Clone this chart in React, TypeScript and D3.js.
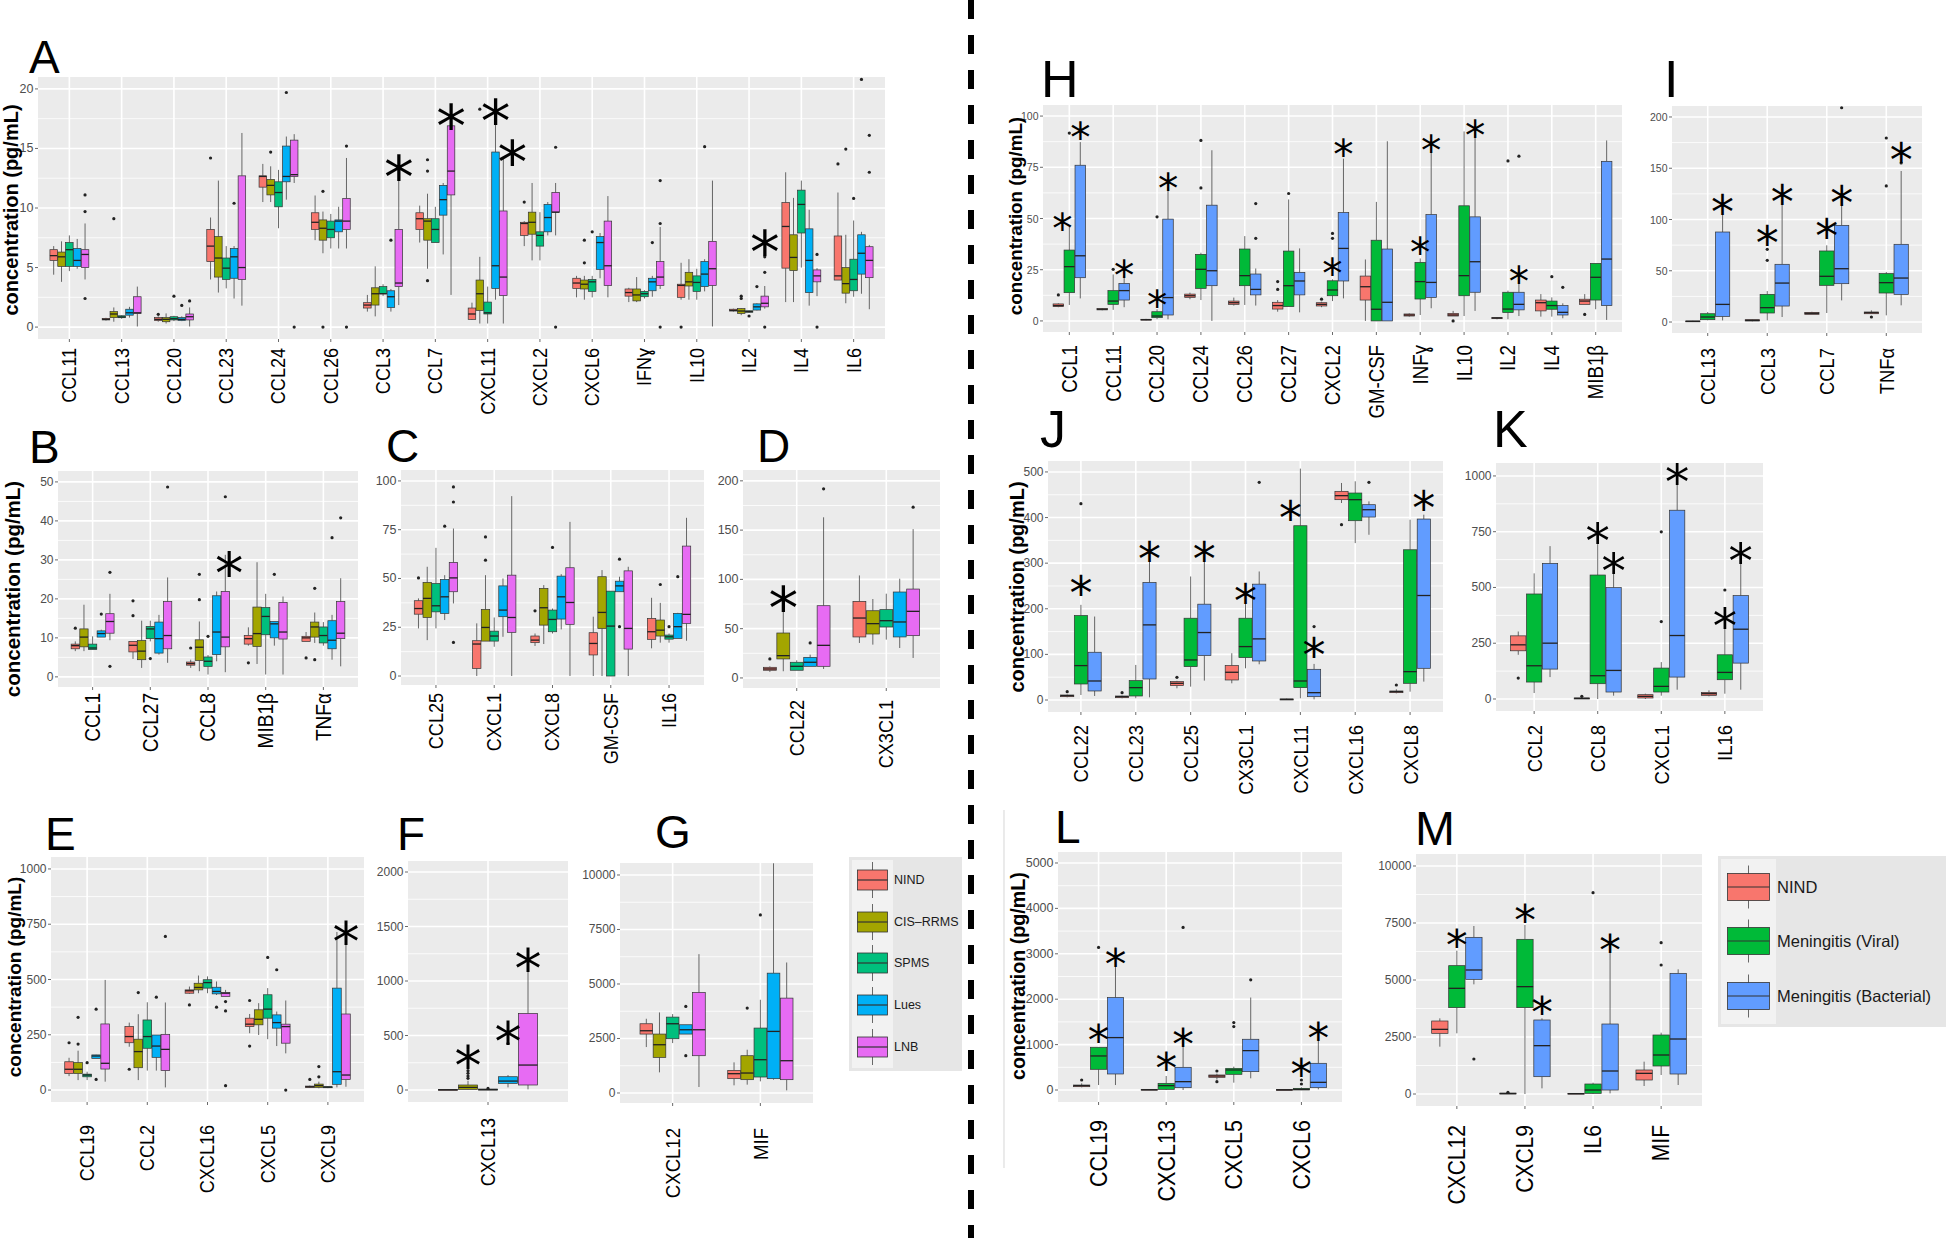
import React from "react";
import * as d3 from "d3";

// ---------- groups ----------
const msGroups = ["NIND", "CIS–RRMS", "SPMS", "Lues", "LNB"];
const msColors = ["#F8766D", "#A3A500", "#00BF7D", "#00B0F6", "#E76BF3"];
const menGroups = ["NIND", "Meningitis (Viral)", "Meningitis (Bacterial)"];
const menColors = ["#F8766D", "#00BA38", "#619CFF"];

// row: [category, group, lowerWhisker, q1, median, q3, upperWhisker, outliers]
type Row = [string, number, number, number, number, number, number, number[]];
type Star = [string, number, number];

// ---------- Panel A ----------
const aCats = ["CCL11", "CCL13", "CCL20", "CCL23", "CCL24", "CCL26", "CCL3", "CCL7", "CXCL11", "CXCL2", "CXCL6", "IFNɣ", "IL10", "IL2", "IL4", "IL6"];
const aTicks = [0, 5, 10, 15, 20];
const aBoxes: Row[] = [
  ["CCL11", 0, 4.4, 5.6, 6.0, 6.5, 6.8, []],
  ["CCL11", 1, 3.8, 5.1, 5.9, 6.3, 7.2, []],
  ["CCL11", 2, 4.7, 5.1, 6.5, 7.1, 7.7, []],
  ["CCL11", 3, 4.9, 5.1, 5.6, 6.6, 7.4, []],
  ["CCL11", 4, 4.0, 5.0, 6.1, 6.5, 8.7, [11.1, 9.7, 2.4]],
  ["CCL13", 0, 0.55, 0.6, 0.65, 0.73, 0.78, []],
  ["CCL13", 1, 0.45, 0.8, 1.1, 1.3, 1.65, [9.1]],
  ["CCL13", 2, 0.7, 0.79, 0.85, 0.95, 1.0, []],
  ["CCL13", 3, 0.8, 1.0, 1.2, 1.5, 1.7, []],
  ["CCL13", 4, 0.05, 1.15, 1.2, 2.55, 3.4, []],
  ["CCL20", 0, 0.45, 0.55, 0.65, 0.8, 0.9, [1.07]],
  ["CCL20", 1, 0.3, 0.45, 0.65, 0.8, 1.15, []],
  ["CCL20", 2, 0.5, 0.6, 0.7, 0.87, 0.95, [2.6]],
  ["CCL20", 3, 0.5, 0.55, 0.65, 0.8, 0.9, [1.82]],
  ["CCL20", 4, 0.05, 0.6, 0.87, 1.1, 1.65, [2.2]],
  ["CCL23", 0, 4.0, 5.5, 6.8, 8.2, 9.2, [14.2]],
  ["CCL23", 1, 2.9, 4.2, 5.8, 7.6, 12.3, []],
  ["CCL23", 2, 3.25, 4.0, 4.95, 5.8, 6.8, []],
  ["CCL23", 3, 2.4, 4.1, 5.9, 6.6, 6.8, [10.4]],
  ["CCL23", 4, 1.8, 4.0, 5.0, 12.7, 16.3, []],
  ["CCL24", 0, 10.5, 11.75, 12.65, 12.7, 13.7, []],
  ["CCL24", 1, 10.5, 11.1, 11.9, 12.4, 13.5, [14.7]],
  ["CCL24", 2, 8.3, 10.1, 11.3, 12.2, 13.2, []],
  ["CCL24", 3, 10.7, 12.2, 12.65, 15.2, 16.0, [19.7]],
  ["CCL24", 4, 12.1, 12.65, 12.8, 15.7, 16.2, [0]],
  ["CCL26", 0, 7.3, 8.2, 8.8, 9.6, 11.05, []],
  ["CCL26", 1, 6.2, 7.3, 8.3, 9.0, 9.7, [11.4, 0]],
  ["CCL26", 2, 6.6, 7.5, 8.2, 8.9, 9.5, []],
  ["CCL26", 3, 6.6, 8.0, 8.9, 9.0, 10.1, []],
  ["CCL26", 4, 6.6, 8.2, 8.9, 10.8, 14.2, [15.2, 0]],
  ["CCL3", 0, 1.3, 1.6, 1.85, 2.05, 2.7, []],
  ["CCL3", 1, 0.9, 1.85, 2.8, 3.3, 5.1, []],
  ["CCL3", 2, 2.6, 2.8, 2.8, 3.4, 3.6, []],
  ["CCL3", 3, 1.3, 1.65, 2.55, 3.05, 3.2, [7.3]],
  ["CCL3", 4, 1.85, 3.4, 3.7, 8.2, 12.8, []],
  ["CCL7", 0, 7.1, 8.2, 9.1, 9.6, 10.2, []],
  ["CCL7", 1, 4.9, 7.3, 8.9, 9.1, 11.2, [14.05, 13.1, 3.9]],
  ["CCL7", 2, 7.1, 7.1, 8.2, 9.1, 10.1, []],
  ["CCL7", 3, 6.1, 9.4, 10.7, 11.9, 12.1, []],
  ["CCL7", 4, 2.7, 11.1, 13.1, 16.9, 16.9, []],
  ["CXCL11", 0, 0.6, 0.65, 1.1, 1.6, 2.05, []],
  ["CXCL11", 1, 0.3, 1.4, 2.8, 3.95, 5.9, [18.3]],
  ["CXCL11", 2, 0.3, 1.1, 1.2, 2.1, 3.4, []],
  ["CXCL11", 3, 2.3, 3.25, 5.15, 14.7, 19.1, []],
  ["CXCL11", 4, 0.3, 2.65, 4.2, 9.75, 14.2, []],
  ["CXCL2", 0, 6.8, 7.7, 8.7, 8.8, 8.9, [10.5]],
  ["CXCL2", 1, 5.6, 7.8, 8.8, 9.65, 12.1, []],
  ["CXCL2", 2, 5.6, 6.8, 7.7, 8.0, 9.65, []],
  ["CXCL2", 3, 7.7, 8.0, 9.2, 10.3, 10.5, []],
  ["CXCL2", 4, 7.7, 9.65, 9.65, 11.3, 12.1, [15.1, 0]],
  ["CXCL6", 0, 2.5, 3.25, 3.7, 4.1, 4.3, []],
  ["CXCL6", 1, 2.3, 3.2, 3.6, 3.95, 4.3, [7.3, 5.4]],
  ["CXCL6", 2, 2.5, 3.0, 3.8, 4.0, 4.3, [8.0]],
  ["CXCL6", 3, 4.1, 4.85, 7.1, 7.6, 7.9, []],
  ["CXCL6", 4, 2.5, 3.5, 5.15, 8.9, 11.0, []],
  ["IFNɣ", 0, 2.1, 2.6, 2.9, 3.2, 3.3, []],
  ["IFNɣ", 1, 2.1, 2.2, 2.7, 3.2, 4.2, []],
  ["IFNɣ", 2, 2.4, 2.55, 2.8, 3.0, 3.1, []],
  ["IFNɣ", 3, 2.55, 3.05, 3.8, 4.1, 4.3, [7.1]],
  ["IFNɣ", 4, 3.2, 3.5, 4.2, 5.5, 8.4, [12.3, 8.7, 0]],
  ["IL10", 0, 2.3, 2.5, 3.5, 3.6, 5.4, [0]],
  ["IL10", 1, 2.3, 3.45, 3.8, 4.6, 5.7, []],
  ["IL10", 2, 2.3, 3.0, 3.75, 4.3, 4.9, []],
  ["IL10", 3, 3.0, 3.4, 4.45, 5.5, 5.7, [15.15]],
  ["IL10", 4, 0.05, 3.5, 4.9, 7.2, 12.3, []],
  ["IL2", 0, 1.3, 1.35, 1.4, 1.5, 1.55, []],
  ["IL2", 1, 1.0, 1.15, 1.35, 1.55, 1.6, [2.6, 2.4]],
  ["IL2", 2, 1.2, 1.25, 1.3, 1.37, 1.4, [0.93]],
  ["IL2", 3, 1.4, 1.43, 1.7, 1.95, 2.0, [3.4]],
  ["IL2", 4, 1.55, 1.7, 2.0, 2.6, 3.45, [4.6, 5.9, 0]],
  ["IL4", 0, 2.1, 4.95, 8.45, 10.45, 13.0, []],
  ["IL4", 1, 2.1, 4.75, 5.85, 7.75, 10.85, []],
  ["IL4", 2, 5.0, 7.9, 10.3, 11.5, 12.3, []],
  ["IL4", 3, 1.8, 2.9, 5.6, 8.25, 9.85, []],
  ["IL4", 4, 2.6, 3.8, 4.3, 4.8, 4.95, [6.1, 0]],
  ["IL6", 0, 3.95, 3.95, 4.3, 7.65, 11.3, [13.7]],
  ["IL6", 1, 2.0, 2.85, 3.65, 5.0, 7.75, [14.95]],
  ["IL6", 2, 2.55, 3.05, 4.0, 5.7, 8.95, [10.8]],
  ["IL6", 3, 2.8, 4.45, 6.2, 7.75, 8.0, [20.8]],
  ["IL6", 4, 1.5, 4.15, 5.6, 6.75, 6.9, [16.1, 13.0]],
];
const aStars: Star[] = [["CCL3", 4, 13.7], ["CCL7", 4, 18.0], ["CXCL11", 3, 18.4], ["CXCL11", 4, 15.0], ["IL2", 4, 7.4]];

// ---------- Panel B ----------
const bCats = ["CCL1", "CCL27", "CCL8", "MIB1β", "TNFα"];
const bTicks = [0, 10, 20, 30, 40, 50];
const bBoxes: Row[] = [
  ["CCL1", 0, 6.6, 7.2, 8.0, 8.4, 9.1, [12.5]],
  ["CCL1", 1, 6.6, 7.7, 10.2, 12.3, 18.5, []],
  ["CCL1", 2, 7.0, 7.0, 7.4, 8.4, 10.4, []],
  ["CCL1", 3, 10.2, 10.2, 11.1, 11.8, 12.1, [16.1]],
  ["CCL1", 4, 9.4, 11.2, 14.2, 16.2, 21.3, [26.8, 2.7]],
  ["CCL27", 0, 4.6, 6.4, 8.1, 9.1, 9.1, [19.5, 15.7]],
  ["CCL27", 1, 2.3, 4.4, 6.6, 9.3, 14.4, []],
  ["CCL27", 2, 9.1, 9.8, 12.3, 12.95, 14.4, [4.7]],
  ["CCL27", 3, 5.7, 6.1, 9.8, 14.05, 15.9, []],
  ["CCL27", 4, 3.6, 7.2, 10.6, 19.3, 25.5, [48.7]],
  ["CCL8", 0, 2.3, 3.0, 3.4, 3.8, 4.4, [7.4]],
  ["CCL8", 1, 1.45, 4.2, 7.6, 9.5, 14.2, [26.3, 19.8]],
  ["CCL8", 2, 0.6, 2.7, 4.0, 5.1, 5.6, [10.4]],
  ["CCL8", 3, 4.0, 5.7, 11.5, 20.8, 21.9, []],
  ["CCL8", 4, 1.2, 7.7, 10.2, 21.9, 31.3, [46.2]],
  ["MIB1β", 0, 8.0, 8.4, 9.8, 10.6, 12.7, [3.6]],
  ["MIB1β", 1, 3.3, 7.8, 11.1, 17.9, 29.4, []],
  ["MIB1β", 2, 0.6, 10.8, 15.5, 17.8, 21.3, []],
  ["MIB1β", 3, 8.0, 10.0, 13.6, 14.2, 14.2, [26.3]],
  ["MIB1β", 4, 0.6, 9.7, 11.5, 19.1, 20.6, []],
  ["TNFα", 0, 9.1, 9.1, 10.0, 10.4, 11.5, [4.85]],
  ["TNFα", 1, 8.7, 10.2, 12.8, 14.05, 16.5, [22.7, 4.4]],
  ["TNFα", 2, 8.0, 8.7, 10.6, 12.8, 14.05, []],
  ["TNFα", 3, 4.4, 7.2, 9.4, 14.4, 15.9, [35.7]],
  ["TNFα", 4, 2.7, 9.8, 11.2, 19.3, 25.3, [40.8]],
];
const bStars: Star[] = [["CCL8", 4, 30]];

// ---------- Panel C ----------
const cCats = ["CCL25", "CXCL1", "CXCL8", "GM-CSF", "IL16"];
const cTicks = [0, 25, 50, 75, 100];
const cBoxes: Row[] = [
  ["CCL25", 0, 24.4, 31.7, 34.6, 38.6, 39.8, [50.3]],
  ["CCL25", 1, 18.4, 30.0, 39.8, 48.0, 56.0, []],
  ["CCL25", 2, 24.4, 32.9, 36.0, 47.4, 65.7, []],
  ["CCL25", 3, 28.7, 32.1, 40.6, 49.5, 51.7, [76.8]],
  ["CCL25", 4, 37.2, 43.2, 50.3, 58.2, 75.6, [96.9, 89.2, 17.2]],
  ["CXCL1", 0, 0, 3.9, 16.4, 18.1, 27.0, []],
  ["CXCL1", 1, 17.9, 17.9, 24.9, 34.1, 51.7, [71.3, 59.4]],
  ["CXCL1", 2, 15.0, 17.9, 20.5, 23.0, 30.0, []],
  ["CXCL1", 3, 20.1, 30.4, 33.8, 46.2, 50.0, []],
  ["CXCL1", 4, 0, 22.4, 30.0, 51.7, 92.2, []],
  ["CXCL8", 0, 15.4, 17.1, 18.4, 20.5, 21.8, [33.4]],
  ["CXCL8", 1, 16.4, 26.1, 35.0, 44.9, 46.6, []],
  ["CXCL8", 2, 21.8, 22.7, 29.0, 33.8, 34.6, [65.9]],
  ["CXCL8", 3, 23.9, 29.2, 40.6, 51.2, 52.2, []],
  ["CXCL8", 4, 0, 26.5, 37.7, 55.5, 79.0, []],
  ["GM-CSF", 0, 0, 10.8, 16.7, 22.2, 30.4, []],
  ["GM-CSF", 1, 0, 24.4, 32.6, 50.9, 54.3, []],
  ["GM-CSF", 2, 0, 0, 25.6, 43.5, 43.5, []],
  ["GM-CSF", 3, 43.2, 43.2, 46.2, 48.6, 50.9, [59.9, 25.3]],
  ["GM-CSF", 4, 0, 13.8, 24.4, 53.9, 56.0, []],
  ["IL16", 0, 14.2, 18.8, 22.7, 29.5, 40.1, []],
  ["IL16", 1, 17.1, 20.5, 23.5, 28.7, 37.5, [46.9]],
  ["IL16", 2, 17.1, 18.9, 20.1, 21.0, 21.8, [25.3]],
  ["IL16", 3, 19.3, 19.3, 25.3, 32.1, 32.4, [50.9]],
  ["IL16", 4, 18.1, 27.0, 31.6, 66.6, 81.1, []],
];
const cStars: Star[] = [];

// ---------- Panel D ----------
const dCats = ["CCL22", "CX3CL1"];
const dTicks = [0, 50, 100, 150, 200];
const dBoxes: Row[] = [
  ["CCL22", 0, 6.1, 7.8, 9.1, 10.8, 11.8, [19.3]],
  ["CCL22", 1, 6.8, 19.3, 22.6, 45.6, 73.3, []],
  ["CCL22", 2, 7.8, 7.8, 11.8, 15.9, 17.9, []],
  ["CCL22", 3, 11.8, 11.8, 15.9, 20.9, 23.6, [35.5]],
  ["CCL22", 4, 9.1, 11.8, 33.1, 73.3, 163, [191.9]],
  ["CX3CL1", 0, 35.5, 41.6, 60.8, 77.7, 104, []],
  ["CX3CL1", 1, 33.8, 44.6, 55.1, 68.2, 80.1, []],
  ["CX3CL1", 2, 38.9, 51.7, 58.1, 69.3, 85.5, []],
  ["CX3CL1", 3, 30.4, 41.6, 56.8, 87.2, 100.7, []],
  ["CX3CL1", 4, 20.3, 42.9, 67.6, 90.2, 151, [173.3]],
];
const dStars: Star[] = [["CCL22", 1, 84]];

// ---------- Panel E ----------
const eCats = ["CCL19", "CCL2", "CXCL16", "CXCL5", "CXCL9"];
const eTicks = [0, 250, 500, 750, 1000];
const eBoxes: Row[] = [
  ["CCL19", 0, 63, 75, 94, 128, 146, [214]],
  ["CCL19", 1, 45, 75, 94, 124, 178, [329, 208]],
  ["CCL19", 2, 45, 60, 68, 72, 83, [124]],
  ["CCL19", 3, 143, 143, 154, 159, 160, [366, 48]],
  ["CCL19", 4, 38, 95, 121, 299, 498, []],
  ["CCL2", 0, 196, 214, 242, 287, 305, [94]],
  ["CCL2", 1, 45, 101, 174, 230, 343, [441]],
  ["CCL2", 2, 88, 189, 242, 317, 397, []],
  ["CCL2", 3, 88, 148, 199, 249, 249, [420]],
  ["CCL2", 4, 12, 88, 184, 252, 396, [695]],
  ["CXCL16", 0, 435, 438, 449, 453, 468, [385]],
  ["CXCL16", 1, 438, 453, 464, 483, 518, []],
  ["CXCL16", 2, 438, 461, 486, 499, 514, []],
  ["CXCL16", 3, 430, 435, 446, 465, 491, [375]],
  ["CXCL16", 4, 423, 423, 438, 441, 453, [400, 358, 20]],
  ["CXCL5", 0, 257, 287, 298, 325, 344, [405, 199]],
  ["CXCL5", 1, 249, 295, 320, 363, 393, []],
  ["CXCL5", 2, 230, 325, 366, 431, 461, [600]],
  ["CXCL5", 3, 199, 280, 305, 340, 355, [544]],
  ["CXCL5", 4, 166, 212, 287, 298, 405, [0]],
  ["CXCL9", 0, 10, 12, 15, 18, 20, [48]],
  ["CXCL9", 1, 8, 12, 20, 27, 38, [106, 60]],
  ["CXCL9", 2, 8, 10.6, 13.6, 15, 17, []],
  ["CXCL9", 3, 12, 26, 83, 461, 715, []],
  ["CXCL9", 4, 15, 48, 68, 344, 684, []],
];
const eStars: Star[] = [["CXCL9", 4, 728]];

// ---------- Panel F ----------
const fCats = ["CXCL13"];
const fTicks = [0, 500, 1000, 1500, 2000];
const fBoxes: Row[] = [
  ["CXCL13", 0, 0, 0, 2, 5, 8, []],
  ["CXCL13", 1, 4, 6, 24, 46, 85, [107, 128, 153, 177]],
  ["CXCL13", 2, 0, 0, 3, 9, 12, [15]],
  ["CXCL13", 3, 24, 61, 82, 122, 137, [427]],
  ["CXCL13", 4, 6, 46, 229, 702, 1105, []],
];
const fStars: Star[] = [["CXCL13", 1, 336], ["CXCL13", 3, 565], ["CXCL13", 4, 1227]];

// ---------- Panel G ----------
const gCats = ["CXCL12", "MIF"];
const gTicks = [0, 2500, 5000, 7500, 10000];
const gBoxes: Row[] = [
  ["CXCL12", 0, 2107, 2703, 2855, 3176, 3405, []],
  ["CXCL12", 1, 947, 1634, 2214, 2703, 3695, []],
  ["CXCL12", 2, 2290, 2489, 3176, 3481, 3619, []],
  ["CXCL12", 3, 2703, 2703, 2901, 3130, 3130, [3970, 1710]],
  ["CXCL12", 4, 275, 1710, 2901, 4611, 6368, []],
  ["MIF", 0, 351, 657, 886, 1038, 1405, []],
  ["MIF", 1, 382, 611, 916, 1710, 1985, [3894]],
  ["MIF", 2, 534, 733, 1527, 2978, 4276, [8170]],
  ["MIF", 3, 611, 657, 2825, 5497, 10536, []],
  ["MIF", 4, 122, 611, 1481, 4352, 5986, []],
];
const gStars: Star[] = [];

// ---------- Panel H ----------
const hCats = ["CCL1", "CCL11", "CCL20", "CCL24", "CCL26", "CCL27", "CXCL2", "GM-CSF", "INFɣ", "IL10", "IL2", "IL4", "MIB1β"];
const hTicks = [0, 25, 50, 75, 100];
const hBoxes: Row[] = [
  ["CCL1", 0, 6.7, 7.0, 7.5, 8.3, 8.6, [12.7]],
  ["CCL1", 1, 7.8, 13.8, 26.5, 34.6, 45.9, [91.7]],
  ["CCL1", 2, 11.0, 21.1, 31.8, 76.0, 87.3, []],
  ["CCL11", 0, 5.2, 5.4, 5.7, 6.0, 6.3, []],
  ["CCL11", 1, 5.4, 8.1, 9.7, 14.8, 22.7, [25.2]],
  ["CCL11", 2, 6.7, 10.2, 14.8, 18.3, 21.9, []],
  ["CCL20", 0, 0.3, 0.5, 0.6, 0.8, 1.0, []],
  ["CCL20", 1, 0.8, 1.6, 2.4, 4.5, 5.7, [50.8]],
  ["CCL20", 2, 0.8, 2.9, 11.4, 49.7, 65.4, []],
  ["CCL24", 0, 10.6, 11.5, 12.3, 13.1, 13.8, []],
  ["CCL24", 1, 10.2, 15.9, 25.2, 32.5, 33.3, [88.1, 64.9]],
  ["CCL24", 2, 0, 17.2, 24.5, 56.5, 83.3, []],
  ["CCL26", 0, 7.5, 8.1, 8.9, 9.7, 11.4, []],
  ["CCL26", 1, 7.8, 17.2, 22.1, 35.1, 41.4, []],
  ["CCL26", 2, 7.5, 12.7, 15.4, 22.9, 25.6, [57.3, 40.3]],
  ["CCL27", 0, 4.5, 5.8, 7.5, 9.1, 10.2, [19.2, 15.4]],
  ["CCL27", 1, 7.0, 7.0, 17.2, 34.1, 59.3, [62.2]],
  ["CCL27", 2, 4.2, 12.7, 19.5, 23.7, 35.4, []],
  ["CXCL2", 0, 6.7, 7.3, 8.1, 8.9, 9.4, [10.6]],
  ["CXCL2", 1, 9.7, 12.3, 15.1, 19.6, 20.3, [42.7, 40.3]],
  ["CXCL2", 2, 11.0, 19.5, 35.4, 52.9, 79.2, []],
  ["GM-CSF", 0, 0, 10.2, 16.7, 21.9, 30.0, []],
  ["GM-CSF", 1, 0, 0, 5.7, 39.4, 58.1, []],
  ["GM-CSF", 2, 0, 0, 9.1, 35.1, 87.7, []],
  ["INFɣ", 0, 2.1, 2.4, 2.9, 3.4, 3.7, []],
  ["INFɣ", 1, 2.9, 10.7, 19.2, 28.6, 30.5, []],
  ["INFɣ", 2, 6.2, 11.5, 18.8, 51.9, 82.5, []],
  ["IL10", 0, 2.4, 2.4, 2.9, 3.7, 4.9, [0]],
  ["IL10", 1, 2.4, 12.3, 22.1, 56.2, 92.5, []],
  ["IL10", 2, 4.9, 14.0, 28.9, 50.8, 93.0, []],
  ["IL2", 0, 0.8, 1.3, 1.45, 1.6, 1.8, []],
  ["IL2", 1, 0.8, 4.1, 5.8, 14.0, 14.8, [78.1]],
  ["IL2", 2, 2.4, 5.4, 8.1, 14.0, 20.3, [80.4]],
  ["IL4", 0, 2.1, 4.9, 8.9, 10.2, 13.1, []],
  ["IL4", 1, 2.1, 5.7, 7.5, 9.7, 11.5, [21.6]],
  ["IL4", 2, 1.3, 2.9, 4.2, 7.5, 8.6, [16.4]],
  ["MIB1β", 0, 8.1, 8.1, 9.7, 10.6, 13.1, [3.2]],
  ["MIB1β", 1, 5.7, 10.2, 21.3, 28.1, 28.1, []],
  ["MIB1β", 2, 0.5, 7.5, 30.2, 77.9, 88.1, []],
];
const hStars: Star[] = [["CCL1", 1, 49.2], ["CCL1", 2, 93.8], ["CCL11", 2, 26.5], ["CCL20", 1, 11.9], ["CCL20", 2, 68.7], ["CXCL2", 1, 27.6], ["CXCL2", 2, 85.7], ["INFɣ", 1, 37.5], ["INFɣ", 2, 87.7], ["IL10", 2, 95], ["IL2", 2, 23.7]];

// ---------- Panel I ----------
const iCats = ["CCL13", "CCL3", "CCL7", "TNFα"];
const iTicks = [0, 50, 100, 150, 200];
const iBoxes: Row[] = [
  ["CCL13", 0, 0, 0.3, 0.7, 1.0, 1.2, []],
  ["CCL13", 1, 1.6, 2.3, 4.9, 8.1, 9.8, []],
  ["CCL13", 2, 1.6, 5.5, 17.2, 87.8, 105.7, []],
  ["CCL3", 0, 0.7, 1.0, 1.6, 2.3, 2.6, []],
  ["CCL3", 1, 1.6, 8.8, 14.0, 27.0, 30.2, [70.9, 60.2]],
  ["CCL3", 2, 4.9, 15.6, 38.0, 56.3, 115.4, []],
  ["CCL7", 0, 7.5, 7.5, 8.5, 9.4, 10.0, []],
  ["CCL7", 1, 8.8, 35.8, 44.6, 69.3, 74.8, []],
  ["CCL7", 2, 21.1, 37.4, 52.0, 94.3, 114.8, [209]],
  ["TNFα", 0, 8.1, 8.1, 9.1, 9.8, 11.4, [4.9]],
  ["TNFα", 1, 6.5, 28.3, 38.4, 47.2, 48.8, [179.5, 132.7]],
  ["TNFα", 2, 16.3, 27.0, 42.9, 75.8, 147.3, [155.1]],
];
const iStars: Star[] = [["CCL13", 2, 117], ["CCL3", 1, 87.2], ["CCL3", 2, 127.5], ["CCL7", 1, 94.3], ["CCL7", 2, 126.2], ["TNFα", 2, 168.5]];

// ---------- Panel J ----------
const jCats = ["CCL22", "CCL23", "CCL25", "CX3CL1", "CXCL11", "CXCL16", "CXCL8"];
const jTicks = [0, 100, 200, 300, 400, 500];
const jBoxes: Row[] = [
  ["CCL22", 0, 5.9, 7.3, 9.5, 11, 12, [18.3]],
  ["CCL22", 1, 11, 35.1, 75.4, 185.2, 208.6, [430.4]],
  ["CCL22", 2, 8.8, 19.8, 41.7, 104.7, 183, []],
  ["CCL23", 0, 3.7, 5.1, 7.3, 8.8, 9.5, [16.1]],
  ["CCL23", 1, 3.7, 8.8, 27.1, 42.5, 76.9, []],
  ["CCL23", 2, 5.9, 46.1, 164.7, 257.7, 307.4, []],
  ["CCL25", 0, 25.6, 31.5, 36.6, 40.3, 42, [49.8]],
  ["CCL25", 1, 29.3, 73.2, 87.8, 179.3, 270.8, []],
  ["CCL25", 2, 42.5, 97.4, 147.9, 210.1, 316.2, []],
  ["CX3CL1", 0, 36.6, 43.9, 60.8, 75.4, 102.5, []],
  ["CX3CL1", 1, 69.5, 93.0, 117.1, 179.3, 223.3, []],
  ["CX3CL1", 2, 78.3, 85.6, 134, 254, 281.8, [477.3]],
  ["CXCL11", 0, 0, 0, 1.5, 2.2, 3, []],
  ["CXCL11", 1, 3.7, 27.1, 41.7, 382.1, 507.3, []],
  ["CXCL11", 2, 1.5, 7.3, 16.1, 67.3, 79.1, [161]],
  ["CXCL16", 0, 431.9, 439.2, 448, 457.5, 475.8, [384.3]],
  ["CXCL16", 1, 344, 393.1, 439.2, 453.8, 479.5, []],
  ["CXCL16", 2, 362.3, 401.1, 417.2, 428.2, 435.5, [477.3]],
  ["CXCL8", 0, 14.6, 16.1, 18.3, 19.8, 23.4, [32.9]],
  ["CXCL8", 1, 18.3, 36.6, 62.2, 329.4, 395.3, []],
  ["CXCL8", 2, 40.3, 69.5, 229.1, 396.7, 406.3, []],
];
const jStars: Star[] = [["CCL22", 1, 258], ["CCL23", 2, 331], ["CCL25", 2, 333], ["CX3CL1", 1, 240], ["CXCL11", 1, 421], ["CXCL11", 2, 121], ["CXCL8", 2, 444]];

// ---------- Panel K ----------
const kCats = ["CCL2", "CCL8", "CXCL1", "IL16"];
const kTicks = [0, 250, 500, 750, 1000];
const kBoxes: Row[] = [
  ["CCL2", 0, 198.2, 216.1, 242.9, 283.1, 302.5, [93.9]],
  ["CCL2", 1, 26.8, 76, 149, 470.8, 563.2, []],
  ["CCL2", 2, 98.3, 134.1, 250.3, 607.9, 685.4, []],
  ["CCL8", 0, 0, 0, 3, 4.5, 6, [12]],
  ["CCL8", 1, 0, 68.5, 104.3, 555.8, 694.3, []],
  ["CCL8", 2, 14.9, 31.3, 128.1, 499.2, 570.7, []],
  ["CXCL1", 0, 0, 4.5, 11.9, 19.4, 23.8, []],
  ["CXCL1", 1, 14.9, 31.3, 56.6, 138.6, 165.4, [749.5, 347.2]],
  ["CXCL1", 2, 41.7, 98.3, 284.6, 846.3, 968.5, []],
  ["IL16", 0, 11.9, 16.4, 23.8, 29.8, 38.7, []],
  ["IL16", 1, 23.8, 86.4, 119.2, 198.2, 329.3, [488.7]],
  ["IL16", 2, 41.7, 160.9, 312.9, 463.4, 605, []],
];
const kStars: Star[] = [["CCL8", 1, 757], ["CCL8", 2, 623], ["CXCL1", 2, 1022], ["IL16", 1, 377], ["IL16", 2, 670]];

// ---------- Panel L ----------
const lCats = ["CCL19", "CXCL13", "CXCL5", "CXCL6"];
const lTicks = [0, 1000, 2000, 3000, 4000, 5000];
const lBoxes: Row[] = [
  ["CCL19", 0, 58.8, 73.5, 95.6, 110, 147, [220.6]],
  ["CCL19", 1, 110, 455.9, 750, 941.2, 941.2, [3139.7]],
  ["CCL19", 2, 110, 352.9, 1154.4, 2036.8, 2882.4, []],
  ["CXCL13", 0, 0, 0, 5, 14.7, 20, []],
  ["CXCL13", 1, 0, 14.7, 95.6, 147, 308.8, []],
  ["CXCL13", 2, 0, 51.5, 183.8, 500, 1323.5, [3580.9]],
  ["CXCL5", 0, 230, 279.4, 308.8, 330.9, 360, [419, 184]],
  ["CXCL5", 1, 161.8, 345.6, 441.2, 478, 514.7, [1485.3, 1397]],
  ["CXCL5", 2, 257.4, 404.4, 867.6, 1117.6, 2036.8, [2426.5]],
  ["CXCL6", 0, 0, 0, 5, 10, 15, []],
  ["CXCL6", 1, 0, 0, 14.7, 36.8, 58.8, [220.6, 132.4]],
  ["CXCL6", 2, 14.7, 51.5, 169.1, 588.2, 1125, []],
];
const lStars: Star[] = [["CCL19", 1, 1323], ["CCL19", 2, 2993], ["CXCL13", 1, 698], ["CXCL13", 2, 1228], ["CXCL6", 1, 566], ["CXCL6", 2, 1360]];

// ---------- Panel M ----------
const mCats = ["CXCL12", "CXCL9", "IL6", "MIF"];
const mTicks = [0, 2500, 5000, 7500, 10000];
const mBoxes: Row[] = [
  ["CXCL12", 0, 2076, 2661, 2836, 3202, 3319, []],
  ["CXCL12", 1, 2661, 3787, 4635, 5629, 6287, []],
  ["CXCL12", 2, 4810, 5029, 5439, 6871, 7368, [1535]],
  ["CXCL9", 0, 0, 0, 20, 40, 60, [73]],
  ["CXCL9", 1, 0, 3787, 4708, 6784, 7413, []],
  ["CXCL9", 2, 249, 760, 2120, 3246, 3319, []],
  ["IL6", 0, 0, 0, 15, 29, 40, []],
  ["IL6", 1, 0, 29, 175, 439, 497, [8830]],
  ["IL6", 2, 29, 175, 1009, 3070, 6579, []],
  ["MIF", 0, 351, 614, 906, 1053, 1418, []],
  ["MIF", 1, 833, 1228, 1711, 2588, 2690, [6637, 5658]],
  ["MIF", 2, 395, 877, 2412, 5292, 5468, []],
];
const mStars: Star[] = [["CXCL12", 1, 6974], ["CXCL9", 1, 8070], ["CXCL9", 2, 4020], ["IL6", 2, 6754]];

// ---------- layout ----------
const FONT = "'Liberation Sans', Arial, Helvetica, sans-serif";
const YLAB = "concentration (pg/mL)";

type PanelCfg = {
  letter: string; lx: number; ly: number; lsize: number;
  cats: string[]; boxes: Row[]; stars: Star[]; ticks: number[]; colors: string[];
  x0: number; x1: number; y0: number; y1: number; dom: [number, number];
  tickSize: number; xlabOff: number; xlabSize: number; starH: number;
  ylab?: { x: number; y: number; size: number };
  nudge?: Record<string, number>;
};

const panels: PanelCfg[] = [
  { letter: "A", lx: 29, ly: 73, lsize: 46, cats: aCats, boxes: aBoxes, stars: aStars, ticks: aTicks, colors: msColors,
    x0: 38, x1: 885, y0: 77, y1: 339, dom: [-1.0, 21.0], tickSize: 12.5, xlabOff: 9, xlabSize: 18, starH: 22,
    ylab: { x: 11, y: 210, size: 20 }, nudge: { "CXCL11|4": 9 } },
  { letter: "B", lx: 29, ly: 463, lsize: 46, cats: bCats, boxes: bBoxes, stars: bStars, ticks: bTicks, colors: msColors,
    x0: 58, x1: 358, y0: 471, y1: 687, dom: [-2.6, 52.8], tickSize: 12, xlabOff: 6, xlabSize: 19, starH: 21,
    ylab: { x: 12.5, y: 589, size: 20.5 }, nudge: { "CCL8|4": 4 } },
  { letter: "C", lx: 386, ly: 462, lsize: 46, cats: cCats, boxes: cBoxes, stars: cStars, ticks: cTicks, colors: msColors,
    x0: 401, x1: 704, y0: 470, y1: 685, dom: [-4.6, 105.6], tickSize: 12.5, xlabOff: 8, xlabSize: 18, starH: 22 },
  { letter: "D", lx: 757, ly: 462, lsize: 46, cats: dCats, boxes: dBoxes, stars: dStars, ticks: dTicks, colors: msColors,
    x0: 743, x1: 940, y0: 470, y1: 688, dom: [-10.2, 211], tickSize: 12.5, xlabOff: 12, xlabSize: 18, starH: 22 },
  { letter: "E", lx: 45, ly: 850, lsize: 46, cats: eCats, boxes: eBoxes, stars: eStars, ticks: eTicks, colors: msColors,
    x0: 51, x1: 364, y0: 857, y1: 1102, dom: [-54, 1054], tickSize: 12, xlabOff: 23, xlabSize: 18, starH: 20,
    ylab: { x: 14, y: 977, size: 19 } },
  { letter: "F", lx: 397, ly: 850, lsize: 46, cats: fCats, boxes: fBoxes, stars: fStars, ticks: fTicks, colors: msColors,
    x0: 408, x1: 568, y0: 861, y1: 1102, dom: [-110, 2101], tickSize: 12, xlabOff: 16, xlabSize: 18, starH: 20 },
  { letter: "G", lx: 655, ly: 848, lsize: 46, cats: gCats, boxes: gBoxes, stars: gStars, ticks: gTicks, colors: msColors,
    x0: 620, x1: 813, y0: 863, y1: 1103, dom: [-459, 10550], tickSize: 12, xlabOff: 25, xlabSize: 18.5, starH: 20 },
  { letter: "H", lx: 1041, ly: 97, lsize: 52, cats: hCats, boxes: hBoxes, stars: hStars, ticks: hTicks, colors: menColors,
    x0: 1043, x1: 1622, y0: 105, y1: 332, dom: [-5.4, 105.4], tickSize: 10.5, xlabOff: 13, xlabSize: 18.6, starH: 15,
    ylab: { x: 1015, y: 216, size: 18.8 }, nudge: { "CCL1|1": -7 } },
  { letter: "I", lx: 1664, ly: 97, lsize: 52, cats: iCats, boxes: iBoxes, stars: iStars, ticks: iTicks, colors: menColors,
    x0: 1672, x1: 1922, y0: 106, y1: 333, dom: [-10.7, 210.7], tickSize: 10.5, xlabOff: 15, xlabSize: 18.3, starH: 17 },
  { letter: "J", lx: 1040, ly: 447, lsize: 52, cats: jCats, boxes: jBoxes, stars: jStars, ticks: jTicks, colors: menColors,
    x0: 1048, x1: 1443, y0: 461, y1: 712, dom: [-26.3, 524], tickSize: 12, xlabOff: 13, xlabSize: 18.4, starH: 17,
    ylab: { x: 1017, y: 587, size: 20 }, nudge: { "CXCL11|1": -10 } },
  { letter: "K", lx: 1493, ly: 447, lsize: 52, cats: kCats, boxes: kBoxes, stars: kStars, ticks: kTicks, colors: menColors,
    x0: 1496, x1: 1763, y0: 463, y1: 711, dom: [-53.8, 1058], tickSize: 12, xlabOff: 14, xlabSize: 18.4, starH: 18 },
  { letter: "L", lx: 1055, ly: 843, lsize: 46, cats: lCats, boxes: lBoxes, stars: lStars, ticks: lTicks, colors: menColors,
    x0: 1058, x1: 1342, y0: 852, y1: 1102, dom: [-264, 5242], tickSize: 12.5, xlabOff: 18, xlabSize: 21.5, starH: 16,
    ylab: { x: 1018, y: 976, size: 19.7 } },
  { letter: "M", lx: 1415, ly: 845, lsize: 48, cats: mCats, boxes: mBoxes, stars: mStars, ticks: mTicks, colors: menColors,
    x0: 1416, x1: 1702, y0: 854, y1: 1106, dom: [-526, 10526], tickSize: 12, xlabOff: 19, xlabSize: 21, starH: 16 },
];

// category labels look condensed in the original: taller glyphs, same length
const XLAB_GROW = 1.14;
const XLAB_SQUEEZE = 0.88;

function Panel({ p }: { p: PanelCfg }) {
  const x = d3.scalePoint<string>().domain(p.cats).range([p.x0, p.x1]).padding(0.6);
  const y = d3.scaleLinear().domain(p.dom).range([p.y1, p.y0]);
  const step = x.step();
  const n = p.colors.length;
  const groupW = step * 0.75;
  const slot = groupW / n;
  const bw = slot * 0.96;
  const bx = (cat: string, g: number) => (x(cat) as number) - groupW / 2 + slot * (g + 0.5);
  const tstep = p.ticks[1] - p.ticks[0];
  const minors: number[] = [];
  for (let i = -1; i < p.ticks.length; i++) {
    const m = (i < 0 ? p.ticks[0] : p.ticks[i]) + (i < 0 ? -tstep / 2 : tstep / 2);
    if (m > p.dom[0] && m < p.dom[1]) minors.push(m);
  }
  const fsStar = p.starH / 0.37;
  return (
    <g>
      <text x={p.lx} y={p.ly} fontSize={p.lsize} fontFamily={FONT} fill="#000">{p.letter}</text>
      <rect x={p.x0} y={p.y0} width={p.x1 - p.x0} height={p.y1 - p.y0} fill="#EBEBEB" />
      {minors.map((m) => (
        <line key={"mi" + m} x1={p.x0} x2={p.x1} y1={y(m)} y2={y(m)} stroke="#fff" strokeWidth={0.8} />
      ))}
      {p.ticks.map((t) => (
        <line key={"ma" + t} x1={p.x0} x2={p.x1} y1={y(t)} y2={y(t)} stroke="#fff" strokeWidth={1.6} />
      ))}
      {p.cats.map((c) => (
        <line key={"vx" + c} x1={x(c)} x2={x(c)} y1={p.y0} y2={p.y1} stroke="#fff" strokeWidth={1.6} />
      ))}
      {p.boxes.map((r, i) => {
        const [cat, g, lo, q1, med, q3, hi, out] = r;
        const cx = bx(cat, g);
        return (
          <g key={"b" + i}>
            <line x1={cx} x2={cx} y1={y(hi)} y2={y(q3)} stroke="#444" strokeWidth={0.8} />
            <line x1={cx} x2={cx} y1={y(q1)} y2={y(lo)} stroke="#444" strokeWidth={0.8} />
            <rect x={cx - bw / 2} y={y(q3)} width={bw} height={Math.max(0.8, y(q1) - y(q3))}
              fill={p.colors[g]} stroke="#333" strokeWidth={0.7} />
            <line x1={cx - bw / 2} x2={cx + bw / 2} y1={y(med)} y2={y(med)} stroke="#222" strokeWidth={1.3} />
            {out.map((o, j) => (
              <circle key={j} cx={cx} cy={y(o)} r={1.6} fill="#222" />
            ))}
          </g>
        );
      })}
      {p.stars.map((s, i) => {
        const dx = (p.nudge && p.nudge[s[0] + "|" + s[1]]) || 0;
        return (
          <text key={"s" + i} x={bx(s[0], s[1]) + dx} y={y(s[2]) + 0.575 * fsStar} fontSize={fsStar}
            fontFamily="'DejaVu Sans', sans-serif" textAnchor="middle" fill="#000">*</text>
        );
      })}
      {p.ticks.map((t) => (
        <g key={"yt" + t}>
          <line x1={p.x0 - 3} x2={p.x0} y1={y(t)} y2={y(t)} stroke="#444" strokeWidth={0.8} />
          <text x={p.x0 - 4.5} y={y(t)} fontSize={p.tickSize} fontFamily={FONT} fill="#4D4D4D"
            textAnchor="end" dominantBaseline="central">{t}</text>
        </g>
      ))}
      {p.cats.map((c) => (
        <g key={"xt" + c}>
          <line x1={x(c)} x2={x(c)} y1={p.y1} y2={p.y1 + 3} stroke="#444" strokeWidth={0.8} />
          <text transform={`translate(${x(c)},${p.y1 + p.xlabOff}) rotate(-90) scale(${XLAB_SQUEEZE},1)`}
            fontSize={p.xlabSize * XLAB_GROW}
            fontFamily={FONT} fill="#000" textAnchor="end" dominantBaseline="central">{c}</text>
        </g>
      ))}
      {p.ylab && (
        <text transform={`translate(${p.ylab.x},${p.ylab.y}) rotate(-90)`} fontSize={p.ylab.size}
          fontFamily={FONT} fontWeight="bold" fill="#000" textAnchor="middle" dominantBaseline="central">{YLAB}</text>
      )}
    </g>
  );
}

type LegendCfg = {
  labels: string[]; colors: string[]; x: number; y: number; w: number; h: number;
  kx: number; kw: number; bw: number; bh: number; cys: number[]; tx: number; fs: number; wh: number;
};

const legends: LegendCfg[] = [
  { labels: msGroups, colors: msColors, x: 849, y: 857, w: 113, h: 214, kx: 852, kw: 41, bw: 30, bh: 20,
    cys: [880, 922, 963, 1005, 1047], tx: 894, fs: 12.5, wh: 8 },
  { labels: menGroups, colors: menColors, x: 1718, y: 856, w: 228, h: 171, kx: 1721, kw: 55, bw: 42, bh: 27,
    cys: [887, 941, 996], tx: 1777, fs: 16.5, wh: 8 },
];

function Legend({ l }: { l: LegendCfg }) {
  const kc = l.kx + l.kw / 2;
  return (
    <g>
      <rect x={l.x} y={l.y} width={l.w} height={l.h} fill="#E6E6E6" />
      <rect x={l.kx} y={l.y + 3} width={l.kw} height={l.h - 6} fill="#F2F2F2" />
      {l.labels.map((lab, i) => {
        const cy = l.cys[i];
        return (
          <g key={lab}>
            <line x1={kc} x2={kc} y1={cy - l.bh / 2 - l.wh} y2={cy + l.bh / 2 + l.wh} stroke="#444" strokeWidth={0.8} />
            <rect x={kc - l.bw / 2} y={cy - l.bh / 2} width={l.bw} height={l.bh} fill={l.colors[i]} stroke="#333" strokeWidth={0.8} />
            <line x1={kc - l.bw / 2} x2={kc + l.bw / 2} y1={cy} y2={cy} stroke="#333" strokeWidth={1.2} />
            <text x={l.tx} y={cy} fontSize={l.fs} fontFamily={FONT} fill="#1a1a1a" dominantBaseline="central">{lab}</text>
          </g>
        );
      })}
    </g>
  );
}

export default function App() {
  return (
    <svg width={1946} height={1238} viewBox="0 0 1946 1238"
      style={{ position: "absolute", left: 0, top: 0, display: "block", background: "#fff" }}>
      <rect x={0} y={0} width={1946} height={1238} fill="#fff" />
      <line x1={1004} x2={1004} y1={810} y2={1168} stroke="#DDDDDD" strokeWidth={1.2} />
      {panels.map((p) => (
        <Panel key={p.letter} p={p} />
      ))}
      {legends.map((l, i) => (
        <Legend key={i} l={l} />
      ))}
      <line x1={971} x2={971} y1={0} y2={1238} stroke="#000" strokeWidth={6} strokeDasharray="19 16" />
    </svg>
  );
}
